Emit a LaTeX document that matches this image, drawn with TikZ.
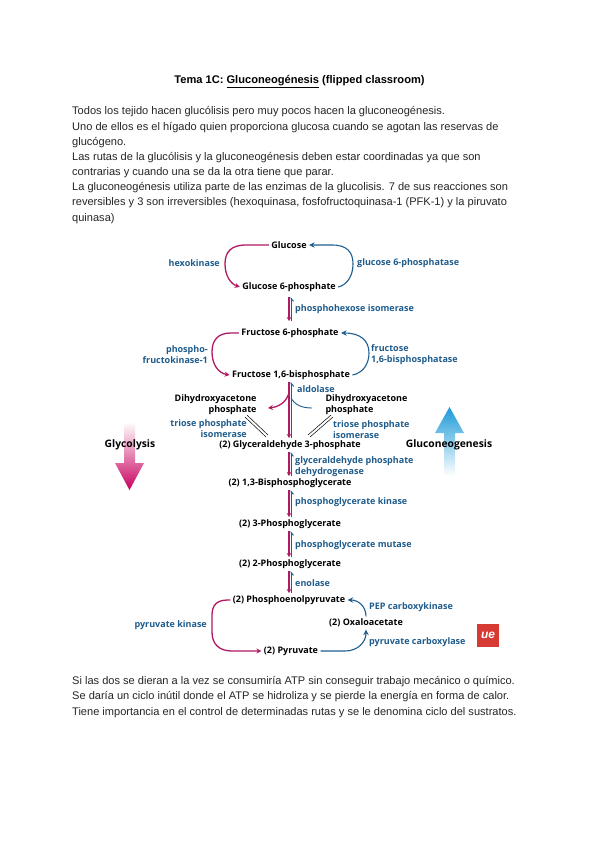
\documentclass[tikz,border=0pt]{standalone}
\usepackage{fontspec}
\setmainfont{Liberation Sans}
\newfontfamily\dgm{Open Sans}
\usetikzlibrary{arrows.meta}
\definecolor{pk}{HTML}{B01A62}
\definecolor{bl}{HTML}{1E5F90}
\definecolor{lb}{HTML}{1F5C8C}
\definecolor{arrpk}{HTML}{C8005F}
\definecolor{arrpkm}{HTML}{E878AE}
\definecolor{arrbl}{HTML}{1C9AD8}
\definecolor{arrblm}{HTML}{8CCDEE}
\definecolor{logored}{HTML}{D63A32}
\tikzset{
 txt/.style={anchor=west,inner sep=0,font=\fontsize{11.05}{12}\selectfont,text=black!85},
 met/.style={inner sep=1pt,outer sep=1.5pt,font=\dgm\bfseries\fontsize{9}{11}\selectfont,text=black,align=center},
 enzw/.style={anchor=west,inner sep=0,font=\dgm\bfseries\fontsize{9}{11}\selectfont,text=lb,align=left},
 enze/.style={anchor=east,inner sep=0,font=\dgm\bfseries\fontsize{9}{11}\selectfont,text=lb,align=right},
 pkar/.style={draw=pk,line width=1.3pt,-{Stealth[length=5pt,width=5pt]}},
 blar/.style={draw=bl,line width=1.1pt,-{Stealth[length=5.5pt,width=5.5pt]}},
 pkv/.style={draw=pk,line width=1.2pt,-{Stealth[length=4pt,width=4.5pt]}},
 blv/.style={draw=bl,line width=1pt,-{Straight Barb[harpoon,swap,length=3pt,width=5pt]}},
 eqv/.style={draw=black,line width=0.5pt},
}
\begin{document}
\begin{tikzpicture}[x=1pt,y=-1pt]
\useasboundingbox (0,0) rectangle (600,848);
\fill[white] (0,0) rectangle (600,848);
% Page text
\node[anchor=center,inner sep=0,font=\bfseries\fontsize{11.1}{12}\selectfont,text=black] (title) at (299.5,82) {Tema 1C: \underline{Gluconeogénesis} (flipped classroom)};
\node[txt] (l1) at (72,112) {Todos los tejido hacen glucólisis pero muy pocos hacen la gluconeogénesis.};
\node[txt] (l2) at (72,128) {Uno de ellos es el hígado quien proporciona glucosa cuando se agotan las reservas de};
\node[txt] (l3) at (72,143) {glucógeno.};
\node[txt] (l4) at (72,158) {Las rutas de la glucólisis y la gluconeogénesis deben estar coordinadas ya que son};
\node[txt] (l5) at (72,173) {contrarias y cuando una se da la otra tiene que parar.};
\node[txt] (l6) at (72,188) {La gluconeogénesis utiliza parte de las enzimas de la glucolisis. 7 de sus reacciones son};
\node[txt] (l7) at (72,203) {reversibles y 3 son irreversibles (hexoquinasa, fosfofructoquinasa-1 (PFK-1) y la piruvato};
\node[txt] (l8) at (72,219) {quinasa)};
\node[txt] (b1) at (72,682) {Si las dos se dieran a la vez se consumiría ATP sin conseguir trabajo mecánico o químico.};
\node[txt] (b2) at (72,697) {Se daría un ciclo inútil donde el ATP se hidroliza y se pierde la energía en forma de calor.};
\node[txt] (b3) at (72,713) {Tiene importancia en el control de determinadas rutas y se le denomina ciclo del sustratos.};
% Big arrows
\shade[top color=white,middle color=arrpkm,bottom color=arrpk]
 (124,422) -- (135,422) -- (135,463) -- (144,463) -- (129.5,490) -- (115,463) -- (124,463) -- cycle;
\shade[top color=arrbl,middle color=arrblm,bottom color=white]
 (444,476) -- (455,476) -- (455,433) -- (464,433) -- (449.5,407) -- (435,433) -- (444,433) -- cycle;
% Metabolites
\node[met] (glc) at (289,245) {Glucose};
\node[met] (g6p) at (289,287) {Glucose 6-phosphate};
\node[met] (f6p) at (290,333) {Fructose 6-phosphate};
\node[met] (fbp) at (291,375) {Fructose 1,6-bisphosphate};
\node[met,anchor=east,align=right] (dhl) at (259,404.5) {Dihydroxyacetone\\phosphate};
\node[met,anchor=west,align=left] (dhr) at (323,404.5) {Dihydroxyacetone\\phosphate};
\node[met] (gap) at (290,445) {(2) Glyceraldehyde 3-phosphate};
\node[met] (bpg) at (290,483) {(2) 1,3-Bisphosphoglycerate};
\node[met] (pg3) at (290,524) {(2) 3-Phosphoglycerate};
\node[met] (pg2) at (290,564) {(2) 2-Phosphoglycerate};
\node[met] (pep) at (289,600) {(2) Phosphoenolpyruvate};
\node[met] (oaa) at (366,623) {(2) Oxaloacetate};
\node[met] (pyr) at (291,651) {(2) Pyruvate};
\node[met,font=\dgm\bfseries\fontsize{10.3}{12}\selectfont] (gly) at (130,445) {Glycolysis};
\node[met,font=\dgm\bfseries\fontsize{10.3}{12}\selectfont] (gng) at (449,445) {Gluconeogenesis};
% Enzymes
\node[enze] (e1) at (220,263) {hexokinase};
\node[enzw] (e2) at (357,263) {glucose 6-phosphatase};
\node[enzw] (e3) at (295,309) {phosphohexose isomerase};
\node[enze] (e4) at (208,354.5) {phospho-\\fructokinase-1};
\node[enzw] (e5) at (371,354.5) {fructose\\1,6-bisphosphatase};
\node[enzw] (e6) at (297,389) {aldolase};
\node[enze] (e7) at (247,428.5) {triose phosphate\\isomerase};
\node[enzw] (e8) at (333,429.5) {triose phosphate\\isomerase};
\node[enzw] (e9) at (295,467) {glyceraldehyde phosphate\\dehydrogenase};
\node[enzw] (e10) at (295,502) {phosphoglycerate kinase};
\node[enzw] (e11) at (295,545) {phosphoglycerate mutase};
\node[enzw] (e12) at (295,583) {enolase};
\node[enze] (e13) at (207,625) {pyruvate kinase};
\node[enzw] (e14) at (369,607) {PEP carboxykinase};
\node[enzw] (e15) at (369,642) {pyruvate carboxylase};
% Cycles
\draw[pkar] (glc.west) -- (246,245) .. controls (231,245) and (225,252) .. (225,264) .. controls (225,276) and (231,284) .. (g6p.west);
\draw[blar] (g6p.east) .. controls (347,285) and (353,276) .. (353,264) .. controls (353,252) and (347,245) .. (332,245) -- (glc.east);
\draw[pkar] (f6p.west) -- (231,333) .. controls (218,333) and (212,340) .. (212,352) .. controls (212,364) and (218,373) .. (fbp.west);
\draw[blar] (fbp.east) .. controls (363,373) and (369,364) .. (369,353) .. controls (369,341) and (361,333) .. (f6p.east);
\draw[pkar] (pep.west) -- (228,600) .. controls (217,600) and (212,605) .. (212,615) -- (212,632) .. controls (212,644) and (219,651) .. (232,651) -- (pyr.west);
\draw[blar] (pyr.east) -- (345,651) .. controls (358,651) and (366,642) .. (oaa.south);
\draw[blar] (oaa.north) .. controls (366,606) and (358,600) .. (pep.east);
% Vertical reversible pairs
\coordinate (v1a) at (289,297); \coordinate (v1b) at (289,321);
\draw[pkv] (v1a) -- (v1b);
\draw[blv] (v1b -| 291,0) -- (v1a -| 291,0);
\draw[pkv,line width=1.7pt] (fbp.south -| 289,0) -- (gap.north -| 289,0);
\draw[blv] (gap.north -| 291.2,0) -- (fbp.south -| 291.2,0);
\draw[pkv] (gap.south -| 289,0) -- (bpg.north -| 289,0);
\draw[blv] (bpg.north -| 291,0) -- (gap.south -| 291,0);
\draw[pkv] (bpg.south -| 289,0) -- (pg3.north -| 289,0);
\draw[blv] (pg3.north -| 291,0) -- (bpg.south -| 291,0);
\draw[pkv] (pg3.south -| 289,0) -- (pg2.north -| 289,0);
\draw[blv] (pg2.north -| 291,0) -- (pg3.south -| 291,0);
\draw[pkv] (pg2.south -| 289,0) -- (pep.north -| 289,0);
\draw[blv] (pep.north -| 291,0) -- (pg2.south -| 291,0);
% Aldolase branches
\coordinate (ald1) at (289,393);
\coordinate (ald2) at (291,398);
\coordinate (ald3) at (312,408);
\draw[pkar] (ald1) .. controls (286,403) and (278,407) .. (268,408);
\draw[bl,line width=0.9pt] (ald3) .. controls (302,408) and (295,405) .. (ald2);
% Triose phosphate isomerase pairs
\coordinate (ta) at (246,416); \coordinate (tb) at (267,436);
\coordinate (tc) at (309,436); \coordinate (td) at (332,416);
\draw[eqv] ([xshift=1pt,yshift=1pt]ta) -- ([xshift=1pt,yshift=1pt]tb);
\draw[eqv] ([xshift=-1pt,yshift=-1pt]ta) -- ([xshift=-1pt,yshift=-1pt]tb);
\draw[eqv] ([xshift=1pt,yshift=-1pt]tc) -- ([xshift=1pt,yshift=-1pt]td);
\draw[eqv] ([xshift=-1pt,yshift=1pt]tc) -- ([xshift=-1pt,yshift=1pt]td);
% Logo
\node[fill=logored,minimum width=22pt,minimum height=23pt,inner sep=0,text=white,font=\itshape\bfseries\fontsize{12}{12}\selectfont] (logo) at (488,635.5) {ue};
\end{tikzpicture}
\end{document}
